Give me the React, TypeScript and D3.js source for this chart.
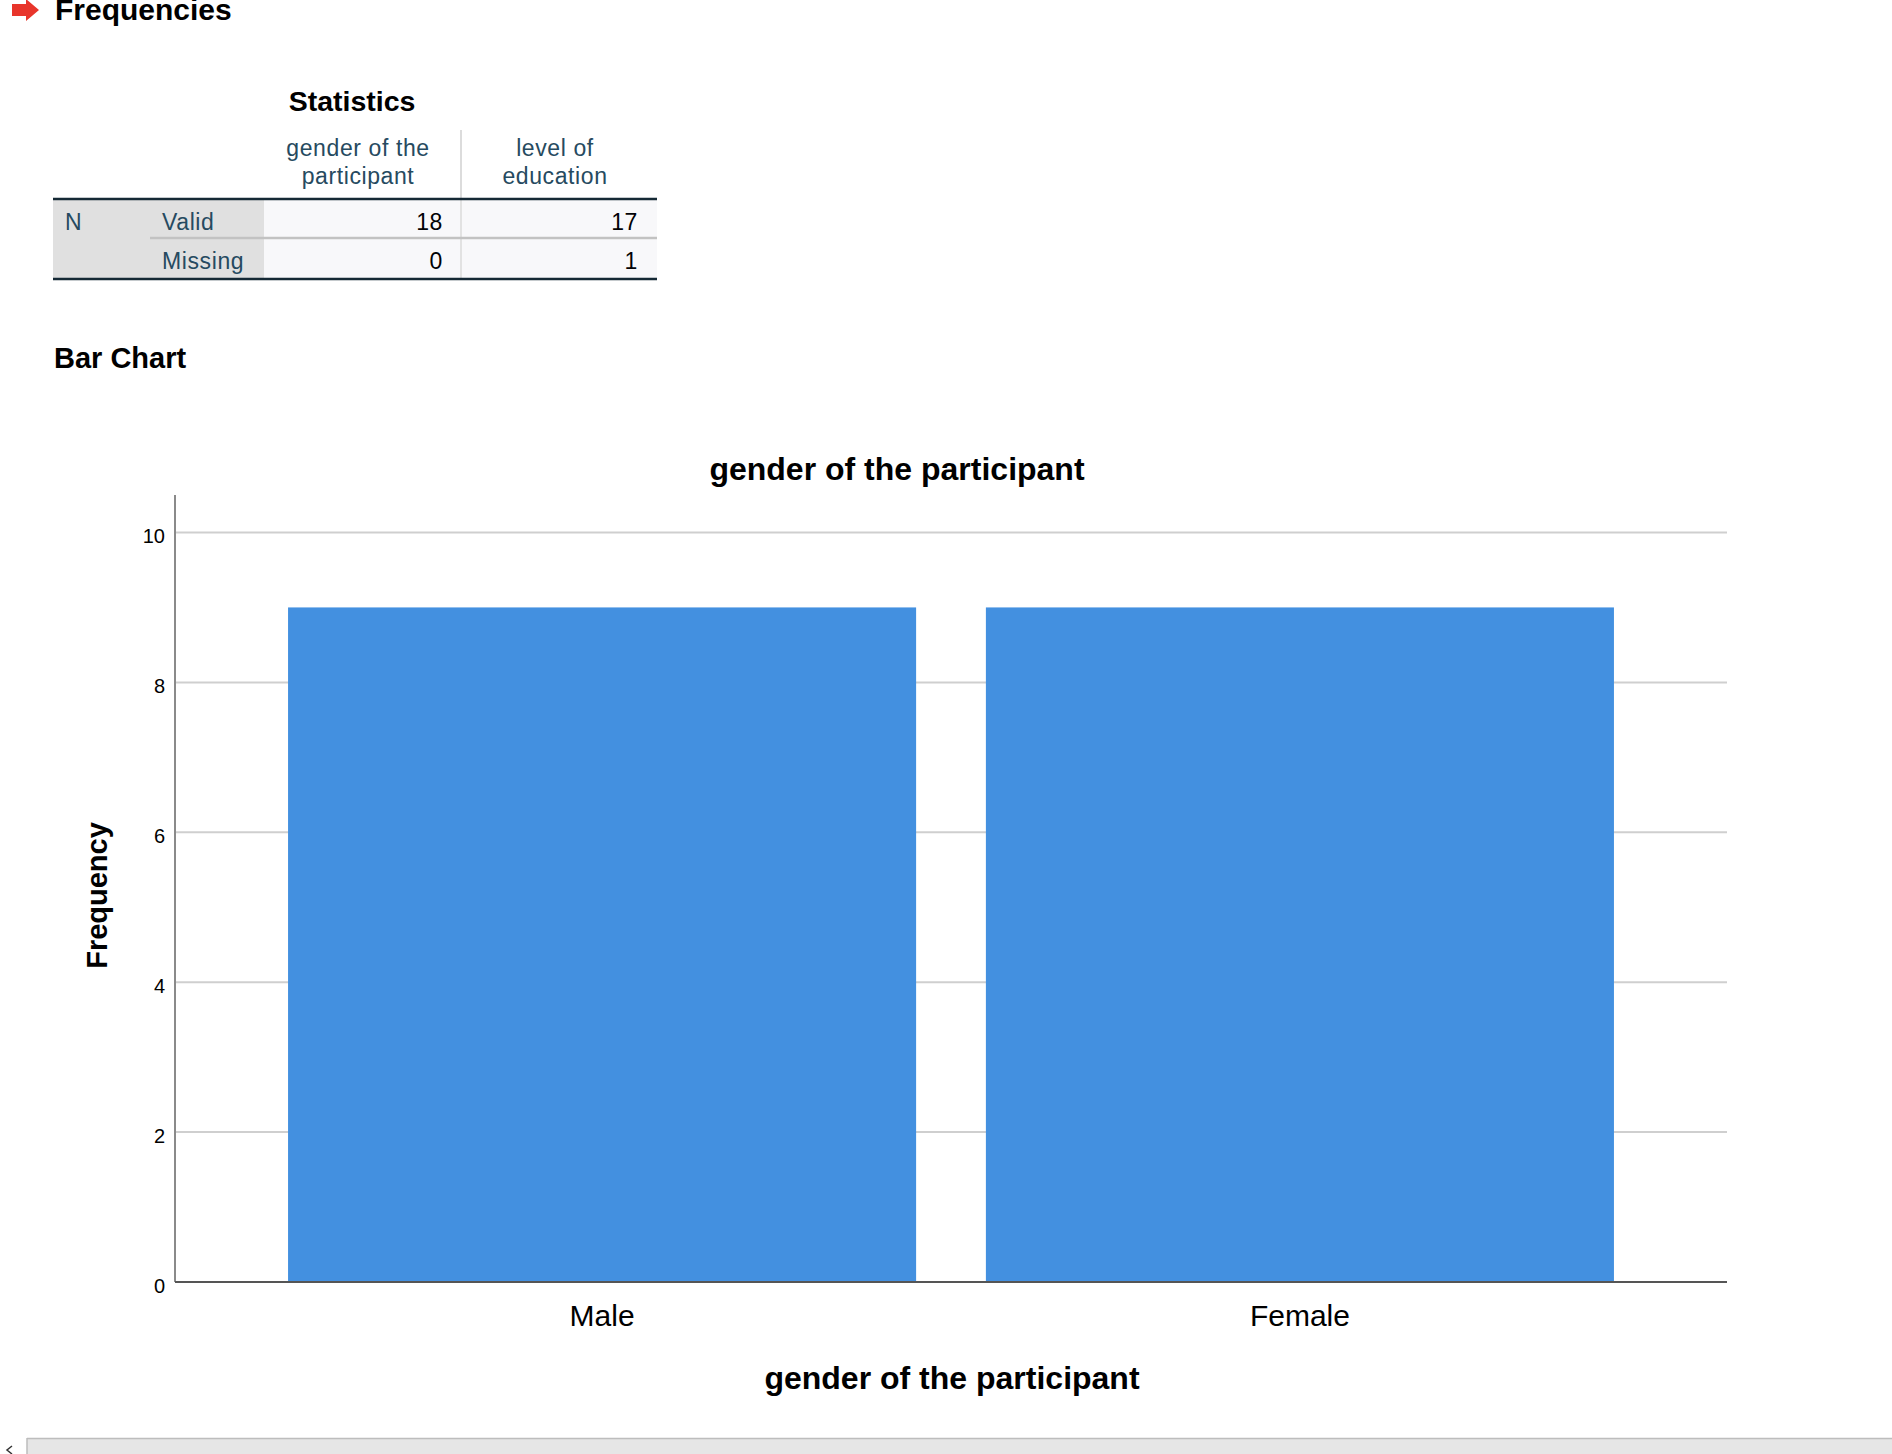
import React from 'react';
import * as d3 from 'd3';

// chart data
const categories = ['Male', 'Female'];
const frequencies = [9, 9];
const yTicks = [0, 2, 4, 6, 8, 10];

// statistics table data
const statHeaders = [
  ['gender of the', 'participant'],
  ['level of', 'education'],
];
const statRowLabels = ['Valid', 'Missing'];
const statValues = [
  [18, 17],
  [0, 1],
];

const W = 1892;
const H = 1454;
const FONT = 'Liberation Sans, Arial, sans-serif';

const App: React.FC = () => {
  // plot frame
  const left = 175;
  const right = 1727;
  const top = 495;
  const bottom = 1282;

  const x = d3.scaleBand<string>()
    .domain(categories)
    .range([left, right])
    .paddingInner(0.1)
    .paddingOuter(0.162);

  const y = d3.scaleLinear()
    .domain([0, 10.5])
    .range([bottom, top]);

  // table geometry
  const tLeft = 53;
  const tGray = 264;
  const tMid = 461;
  const tRight = 657;
  const rowEdges = [199, 238, 279];
  const colRight = [443, 638];
  const colCenter = [358, 555];

  return (
    <svg
      width={W}
      height={H}
      style={{ position: 'absolute', left: 0, top: 0, background: '#fff' }}
    >
      {/* header */}
      <path d="M12,4 H26 V-1 L39,10 L26,21 V16 H12 Z" fill="#e8352b" />
      <text x={55} y={20} fontFamily={FONT} fontWeight="bold" fontSize={30} fill="#000">
        Frequencies
      </text>

      {/* Statistics table */}
      <text x={352} y={111} textAnchor="middle" fontFamily={FONT} fontWeight="bold" fontSize={28.5} fill="#000">
        Statistics
      </text>
      {statHeaders.map((lines, i) => (
        <g key={'h' + i}>
          {lines.map((ln, j) => (
            <text
              key={j}
              x={colCenter[i]}
              y={156 + j * 28}
              textAnchor="middle"
              fontFamily={FONT}
              fontSize={23}
              letterSpacing={0.6}
              fill="#264a60"
            >
              {ln}
            </text>
          ))}
        </g>
      ))}
      <line x1={tMid} x2={tMid} y1={130} y2={rowEdges[0]} stroke="#dcdcdc" strokeWidth={2} />

      <rect x={tLeft} y={rowEdges[0]} width={tGray - tLeft} height={rowEdges[2] - rowEdges[0]} fill="#e0e0e0" />
      <rect x={tGray} y={rowEdges[0]} width={tRight - tGray} height={rowEdges[2] - rowEdges[0]} fill="#f8f8fa" />
      <line x1={tMid} x2={tMid} y1={rowEdges[0]} y2={rowEdges[2]} stroke="#e2e2e2" strokeWidth={2} />
      <line x1={150} x2={tRight} y1={rowEdges[1]} y2={rowEdges[1]} stroke="#c2c2c2" strokeWidth={2.5} />
      <line x1={tLeft} x2={tRight} y1={rowEdges[0]} y2={rowEdges[0]} stroke="#152935" strokeWidth={2.5} />
      <line x1={tLeft} x2={tRight} y1={rowEdges[2]} y2={rowEdges[2]} stroke="#152935" strokeWidth={2.5} />

      <text x={65} y={230} fontFamily={FONT} fontSize={23} fill="#264a60">N</text>
      {statRowLabels.map((lab, r) => (
        <text key={lab} x={162} y={230 + r * 39} fontFamily={FONT} fontSize={23} letterSpacing={0.6} fill="#264a60">
          {lab}
        </text>
      ))}
      {statValues.map((row, r) =>
        row.map((v, c) => (
          <text
            key={r + '-' + c}
            x={colRight[c]}
            y={230 + r * 39}
            textAnchor="end"
            fontFamily={FONT}
            fontSize={23}
            letterSpacing={0.6}
            fill="#010205"
          >
            {v}
          </text>
        ))
      )}

      <text x={54} y={368} fontFamily={FONT} fontWeight="bold" fontSize={29} fill="#000">
        Bar Chart
      </text>

      {/* chart title */}
      <text x={897} y={480} textAnchor="middle" fontFamily={FONT} fontWeight="bold" fontSize={32} fill="#000">
        gender of the participant
      </text>

      {/* gridlines */}
      {yTicks.filter(t => t > 0).map(t => (
        <line key={'g' + t} x1={left} x2={right} y1={y(t)} y2={y(t)} stroke="#cfcfcf" strokeWidth={2} />
      ))}

      {/* bars */}
      {categories.map((c, i) => (
        <rect
          key={c}
          x={x(c)}
          y={y(frequencies[i])}
          width={x.bandwidth()}
          height={y(0) - y(frequencies[i])}
          fill="#4390e0"
        />
      ))}

      {/* axes */}
      <line x1={left} x2={left} y1={top} y2={bottom} stroke="#8a8a8a" strokeWidth={2} />
      <line x1={left} x2={right} y1={bottom} y2={bottom} stroke="#555" strokeWidth={2} />

      {yTicks.map(t => (
        <text
          key={'t' + t}
          x={165}
          y={y(t)}
          dy="0.55em"
          textAnchor="end"
          fontFamily={FONT}
          fontSize={20}
          fill="#000"
        >
          {t}
        </text>
      ))}

      {categories.map(c => (
        <text
          key={'x' + c}
          x={(x(c) ?? 0) + x.bandwidth() / 2}
          y={1326}
          textAnchor="middle"
          fontFamily={FONT}
          fontSize={30}
          fill="#000"
        >
          {c}
        </text>
      ))}

      <text x={952} y={1389} textAnchor="middle" fontFamily={FONT} fontWeight="bold" fontSize={32} fill="#000">
        gender of the participant
      </text>
      <text
        transform={`translate(107,${(top + bottom) / 2 + 7}) rotate(-90)`}
        textAnchor="middle"
        fontFamily={FONT}
        fontWeight="bold"
        fontSize={29}
        fill="#000"
      >
        Frequency
      </text>

      {/* horizontal scrollbar at bottom */}
      <rect x={27} y={1438} width={W - 27} height={16} fill="#e6e6e6" />
      <line x1={27} x2={W} y1={1438.5} y2={1438.5} stroke="#bdbdbd" strokeWidth={1.5} />
      <line x1={27} x2={27} y1={1438} y2={H} stroke="#bdbdbd" strokeWidth={1.5} />
      <path d="M12,1446 L7,1450 L12,1454" fill="none" stroke="#333" strokeWidth={1.5} />
    </svg>
  );
};

export default App;
